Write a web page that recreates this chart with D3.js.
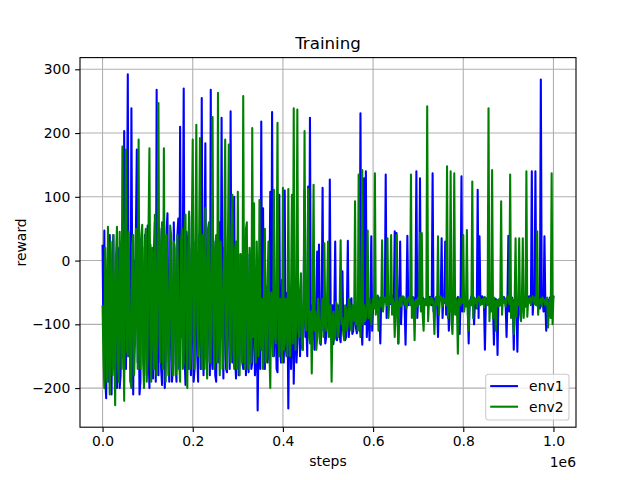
<!DOCTYPE html>
<html>
<head>
<meta charset="utf-8">
<script src="https://cdn.jsdelivr.net/npm/d3@7"></script>
<style>
  body { margin: 0; background: #fff; }
  text { font-family: "DejaVu Sans", sans-serif; }
</style>
</head>
<body>
<div class="graph"></div>
<script>
const env1 = [
  25, -120, 47, -180, -216, -60, -40, -190, 40, -100, -210, 10, 40, -170, -150, -30, -200, 20, -30, -200,
  -180, 30, -60, -140, 203, -100, -170, 20, 292, -150, -80, -190, 239, -60, -210, 0, -120, 45, 174, -160,
  -60, -210, -190, 35, 20, -120, -170, 40, -40, -180, 55, -140, -200, 25, -30, -160, -185, 10, 60, -190,
  268, -120, -180, 50, -20, -170, -195, 20, 40, -200, -150, 45, 74, -130, -190, 30, -50, -190, -170, 60,
  -20, -160, -190, 40, 66, -170, 210, -80, -120, 10, 270, -150, -195, 45, 30, -170, 69, -120, -180, 20,
  -30, -190, -170, 30, -60, -150, -190, 40, -20, -170, 255, -100, -180, 20, 184, -130, -160, 50, -40, -180,
  268, -150, -170, 30, -50, -180, -190, -40, 10, -160, 60, -120, 224, -90, -185, 20, -40, -170, -175, 40,
  -30, -170, 234, -110, -160, 20, 100, -150, -185, 0, -50, -180, -150, 10, -20, -160, -170, -40, -60, -180,
  -20, -150, -175, 10, -80, -170, -160, -40, -60, -180, -150, -70, -235, -120, -100, -170, 218, -140, 82, -160,
  -170, -40, -60, -160, -140, -50, 108, -130, 233, -120, -150, -60, -90, -170, -175, -50, 103, -140, -160, -30,
  -80, -160, 110, -130, -150, -50, -232, -90, -60, -170, -120, -40, -193, -100, -90, -160, -130, -60, -70, -150,
  -75, -130, -140, -60, 111, -120, -100, -150, 116, -90, 224, -110, -130, -70, -80, -140, -120, -60, 14, -100,
  25, -120, -132, -70, 114, -110, -90, -130, -120, -60, -70, -115, 127, -90, -110, -70, -131, -80, 30, -120,
  -125, -70, -80, -120, -128, -75, -17, -110, -95, -125, -120, -70, 31, -120, -100, -65, -59, -115, -110, -75,
  -80, -105, -114, -65, -70, -110, 231, -90, -132, -70, 129, -100, 140, -120, -90, -60, -125, -75, 38, -110,
  -70, -60, -55, -72, -65, -55, -58, -80, -130, -60, -62, -70, -60, -64, 135, -90, -66, -60, -58, -68,
  -62, -70, -55, -64, 46, -80, 43, -60, -130, -68, 30, -100, -60, -58, -65, -72, -132, -62, 39, -70,
  -60, -68, -64, -58, -57, -70, -62, -56, 140, -90, -58, -66, 129, -75, -63, -58, -60, -69, -66, -60,
  -58, -66, -62, -57, -60, -70, 137, -80, -65, -60, -58, -68, -120, -64, -62, -58, 35, -90, -60, -66,
  30, -85, -65, -58, -110, -70, -58, -66, -62, -56, -60, -69, -64, -60, -57, -72, -115, -62, 132, -80,
  -60, -68, -65, -57, -58, -70, -130, -64, -62, -56, -60, -70, -100, -62, -64, -75, 111, -90, 38, -66,
  -62, -56, -58, -70, -140, -66, -60, -58, -65, -69, -57, -64, -62, -72, -132, -60, -60, -68, -148, -62,
  -62, -70, -58, -64, -65, -57, -60, -68, -120, -62, 39, -80, -62, -69, -58, -66, -140, -60, -60, -70,
  -143, -60, -62, -70, -58, -66, -65, -58, -60, -72, -57, -64, -62, -56, -60, -68, 140, -85, -58, -66,
  140, -70, -62, -57, -60, -75, 284, -64, -60, -80, 38, -68, -110, -60, -62, -70, -58, -62, -60, -66, -55
];

const env2 = [
  -70, -150, -200, 20, -60, -190, 53, -130, -210, 30, -100, -180, 40, -120, -227, 10, 53, -160, -190, 45,
  -50, -170, 179, -110, -220, 30, 174, -140, -150, 45, -60, -190, -200, 25, 40, -180, -130, 50, -40, -170,
  190, -130, -170, 40, 56, -160, -200, 30, 50, -190, -150, 50, 176, -120, -190, 20, -40, -170, 72, -140,
  -180, 50, 247, -120, -160, 30, 60, -170, 176, -100, -190, 40, -30, -180, -150, 55, 40, -160, -180, 30,
  20, -180, -170, 40, -40, -160, -190, 30, 50, -170, -160, 45, 72, -130, -200, 20, 77, -170, -150, 50,
  190, -120, -170, 30, 213, -100, -150, 20, 192, -110, -170, 40, -40, -170, 82, -130, -185, 50, 60, -160,
  -160, 30, 225, -120, -170, 20, 40, -160, 263, -100, -180, 30, -20, -170, -150, 45, 190, -120, -170, 20,
  182, -130, -160, 40, 103, -140, -170, 20, 30, -170, 108, -120, -180, 10, -30, -160, 258, -110, -170, 50,
  60, -170, -150, 20, -40, -160, 208, -120, 90, -130, -160, 30, -60, -150, 95, -110, -140, -60, -170, -40,
  50, -160, -150, -30, 30, -140, -200, -50, -60, -150, 111, -110, -130, -40, 216, -120, -150, -60, -80, -160,
  114, -140, -130, -60, -70, -150, 112, -110, -150, -50, 103, -130, 239, -100, -140, -60, 237, -110, -120, -50,
  -20, -130, -140, -60, 203, -100, -110, -50, 112, -120, -130, -80, -177, -60, 119, -110, -80, -140, -120, -60,
  -90, -130, -115, -70, -60, -120, 27, -100, -110, -60, 30, -120, -100, -70, -190, -90, -80, -125, -120, -65,
  -70, -120, -110, -65, 32, -100, -90, -115, -125, -70, -75, -110, -100, -60, -65, -105, -110, -70, -70, -95,
  93, -100, -80, -110, 135, -90, -120, -70, 142, -100, -70, -95, -90, -65, 47, -90, -60, -80, -100, -70,
  -60, -75, 137, -85, -62, -56, -110, -68, -58, -72, 32, -80, -65, -58, -60, -70, 35, -90, -62, -66,
  40, -85, -60, -70, -120, -64, 40, -90, -130, -66, -58, -72, -62, -56, -57, -69, -60, -75, -64, -58,
  -58, -70, 135, -90, -60, -66, -125, -64, -62, -72, -58, -68, 43, -80, 43, -85, -110, -62, -60, -70,
  242, -95, -62, -70, -58, -66, -60, -74, -115, -64, -57, -70, 38, -85, -62, -56, -60, -72, -58, -64,
  -62, -70, 148, -90, -60, -80, 140, -95, -115, -64, 137, -85, -60, -72, -146, -60, -58, -70, -62, -66,
  40, -80, -60, -72, 48, -85, -110, -64, -62, -70, 124, -90, -58, -66, -60, -74, -64, -56, -58, -70,
  -62, -68, -60, -74, -57, -64, -65, -70, 239, -95, -60, -80, 142, -90, -58, -66, -110, -64, -62, -72,
  -60, -70, 93, -85, -57, -66, -62, -72, -60, -56, -58, -68, 135, -90, -60, -74, -115, -62, 35, -88,
  -62, -70, 35, -85, -95, -64, 35, -90, -62, -72, 140, -88, -60, -66, -58, -70, -62, -56, -60, -68,
  -57, -70, 46, -85, -62, -66, -60, -72, -58, -64, -62, -70, -60, -58, -105, -75, -60, -90, 137, -100, -55
];

const logEvery = 2000;
const xTicks = [0, 200000, 400000, 600000, 800000, 1000000];
const yTicks = [-200, -100, 0, 100, 200, 300];
const names = ["env1", "env2"];
const colors = ["blue", "green"];

const width = 640,
      height = 480,
      marginLeft = 80,
      marginTop = 57.6,
      plotW = 496,
      plotH = 369.6;

const series = [env1, env2].map(vals => vals.map((v, i) => [i * logEvery, v]));

// matplotlib style 5% margins
const xMax = d3.max(series, s => d3.max(s, d => d[0]));
const yMin = d3.min([env1, env2], s => d3.min(s)),
      yMax = d3.max([env1, env2], s => d3.max(s));
const xPad = xMax * 0.05,
      yPad = (yMax - yMin) * 0.05;

const xScale = d3.scaleLinear().domain([-xPad, xMax + xPad]).range([0, plotW]);
const yScale = d3.scaleLinear().domain([yMin - yPad, yMax + yPad]).range([plotH, 0]);

const svg = d3.select(".graph")
  .append("svg")
  .attr("width", width)
  .attr("height", height);

svg.append("rect").attr("width", width).attr("height", height).attr("fill", "white");

const g = svg.append("g").attr("transform", `translate(${marginLeft},${marginTop})`);

// grid
g.append("g")
  .selectAll("line")
  .data(xTicks)
  .enter()
  .append("line")
  .attr("x1", d => xScale(d)).attr("x2", d => xScale(d))
  .attr("y1", 0).attr("y2", plotH)
  .attr("stroke", "#b0b0b0").attr("stroke-width", 1.1);

g.append("g")
  .selectAll("line")
  .data(yTicks)
  .enter()
  .append("line")
  .attr("x1", 0).attr("x2", plotW)
  .attr("y1", d => yScale(d)).attr("y2", d => yScale(d))
  .attr("stroke", "#b0b0b0").attr("stroke-width", 1.1);

const line = d3.line()
  .x(d => xScale(d[0]))
  .y(d => yScale(d[1]));

g.selectAll(".series")
  .data(series)
  .enter()
  .append("path")
  .attr("class", "series")
  .attr("d", line)
  .attr("fill", "none")
  .attr("stroke", (d, i) => colors[i])
  .attr("stroke-width", 2.08)
  .attr("stroke-linejoin", "round");

// axes
const xAxis = d3.axisBottom(xScale)
  .tickValues(xTicks)
  .tickFormat(d => (d / 1e6).toFixed(1))
  .tickSize(4.86)
  .tickPadding(4.2);

const yAxis = d3.axisLeft(yScale)
  .tickValues(yTicks)
  .tickSize(4.86)
  .tickPadding(4.86);

const gx = g.append("g")
  .attr("transform", `translate(0,${plotH})`)
  .call(xAxis);

const gy = g.append("g").call(yAxis);

[gx, gy].forEach(ax => {
  ax.select(".domain").remove();
  ax.attr("font-size", 13.9).attr("font-family", "DejaVu Sans");
  ax.selectAll(".tick line").attr("stroke", "black").attr("stroke-width", 1.1);
  ax.selectAll(".tick text").attr("fill", "black");
});

g.append("rect")
  .attr("width", plotW)
  .attr("height", plotH)
  .attr("fill", "none")
  .attr("stroke", "black")
  .attr("stroke-width", 1.1);

// labels
svg.append("text")
  .attr("x", marginLeft + plotW / 2).attr("y", 49.3)
  .attr("text-anchor", "middle")
  .attr("font-size", 16.67)
  .text("Training");

svg.append("text")
  .attr("x", marginLeft + plotW / 2).attr("y", 466)
  .attr("text-anchor", "middle")
  .attr("font-size", 13.9)
  .text("steps");

svg.append("text")
  .attr("x", marginLeft + plotW).attr("y", 467)
  .attr("text-anchor", "end")
  .attr("font-size", 13.9)
  .text("1e6");

svg.append("text")
  .attr("transform", `translate(25.5,${marginTop + plotH / 2}) rotate(-90)`)
  .attr("text-anchor", "middle")
  .attr("font-size", 13.9)
  .text("reward");

// legend
const legend = svg.append("g").attr("transform", "translate(485.7,374.3)");

legend.append("rect")
  .attr("width", 83.3).attr("height", 45.7)
  .attr("rx", 2.8)
  .attr("fill", "white").attr("fill-opacity", 0.8)
  .attr("stroke", "#cccccc").attr("stroke-width", 1.1);

names.forEach((name, i) => {
  const yy = 11.8 + i * 20.6;
  legend.append("line")
    .attr("x1", 4.5).attr("x2", 32.3)
    .attr("y1", yy).attr("y2", yy)
    .attr("stroke", colors[i]).attr("stroke-width", 2.08);
  legend.append("text")
    .attr("x", 43.4).attr("y", yy + 5)
    .attr("font-size", 13.9)
    .text(name);
});
</script>
</body>
</html>
